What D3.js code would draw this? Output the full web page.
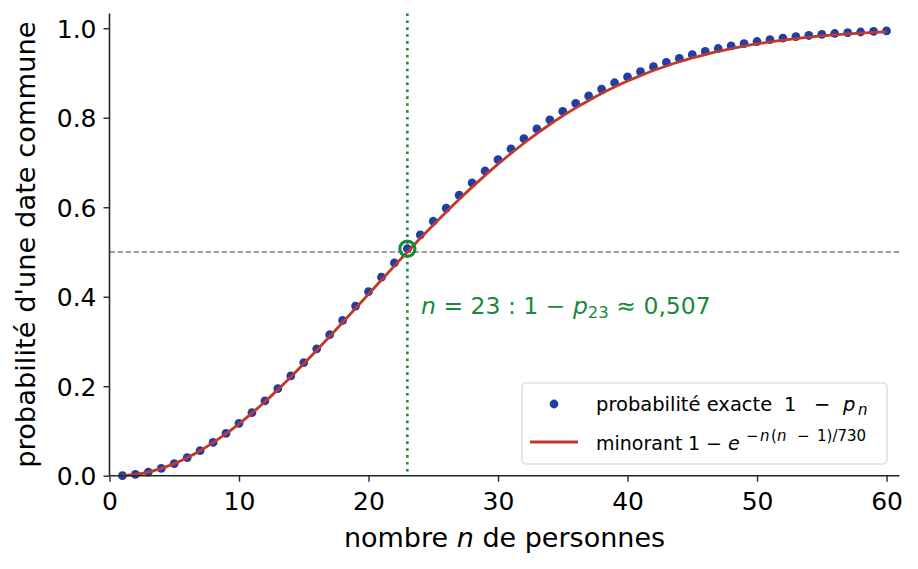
<!DOCTYPE html>
<html><head><meta charset="utf-8">
<script src="https://cdn.jsdelivr.net/npm/d3@7"></script>
<style>
body{margin:0;background:#fff;}
svg{display:block;font-family:"DejaVu Sans",sans-serif;}
</style></head>
<body><svg id="c" width="918" height="569"></svg>
<script>
// number of people n
const nValues = d3.range(1, 61);
// exact probability 1 - p_n
const exactProb = [0,0.00274,0.0082,0.01636,0.02714,0.04046,0.05624,0.07434,0.09462,0.11695,
0.14114,0.16702,0.19441,0.2231,0.2529,0.2836,0.31501,0.34691,0.37912,0.41144,
0.44369,0.4757,0.5073,0.53834,0.5687,0.59824,0.62686,0.65446,0.68097,0.70632,
0.73045,0.75335,0.77497,0.79532,0.81438,0.83218,0.84873,0.86407,0.87822,0.89123,
0.90315,0.91403,0.92392,0.93289,0.94098,0.94825,0.95477,0.9606,0.96578,0.97037,
0.97443,0.978,0.98114,0.98388,0.98626,0.98833,0.99012,0.99166,0.99299,0.99412];
// lower bound 1 - exp(-n(n-1)/730)
const lowerBound = [0,0.00273,0.00818,0.0163,0.02703,0.04027,0.05591,0.07384,0.09392,0.11599,
0.13988,0.16541,0.1924,0.22066,0.24999,0.2802,0.31106,0.3424,0.37404,0.4058,
0.43748,0.46893,0.5,0.53054,0.56042,0.58949,0.61775,0.64498,0.6712,0.6963,
0.72027,0.74304,0.76462,0.78497,0.8041,0.82201,0.83873,0.85428,0.86869,0.88199,
0.89424,0.90548,0.91576,0.92512,0.93362,0.94131,0.94826,0.95451,0.96011,0.96512,
0.96959,0.97356,0.97707,0.98017,0.9829,0.98529,0.98738,0.98921,0.9908,0.99217];
const xTicks = [0,10,20,30,40,50,60];
const yTicks = [0,0.2,0.4,0.6,0.8,1.0];
const threshold = 0.5;
const markN = 23, markP = 0.5073;

const svg = d3.select("#c");
const x = d3.scaleLinear().domain([0,61]).range([109.5,899.5]);
const y = d3.scaleLinear().domain([0,1.033]).range([475.7,13.5]);

const BLUE="#1f3fa6", RED="#c0392b", GREEN="#178a3c", AX="#262626";

// reference lines
svg.append("line").attr("x1",x(0)).attr("x2",x(61)).attr("y1",y(threshold)).attr("y2",y(threshold))
  .attr("stroke","#808080").attr("stroke-width",1.5).attr("stroke-dasharray","5.5,2.5");
svg.append("line").attr("x1",x(markN)).attr("x2",x(markN)).attr("y1",y(1.033)).attr("y2",y(0))
  .attr("stroke",GREEN).attr("stroke-width",2.6).attr("stroke-dasharray","2.6,4.3");

// points
svg.append("g").selectAll("circle").data(nValues).join("circle")
  .attr("cx",d=>x(d)).attr("cy",(d,i)=>y(exactProb[i])).attr("r",4.4).attr("fill",BLUE);
// line
svg.append("path").datum(nValues)
  .attr("d", d3.line().x(d=>x(d)).y((d,i)=>y(lowerBound[i])).curve(d3.curveMonotoneX))
  .attr("fill","none").attr("stroke",RED).attr("stroke-width",2.8);
// marker circle
svg.append("circle").attr("cx",x(markN)).attr("cy",y(markP)).attr("r",7.6)
  .attr("fill","none").attr("stroke",GREEN).attr("stroke-width",3.2);

// axes
const xa = svg.append("g").attr("transform",`translate(0,${y(0)})`)
  .call(d3.axisBottom(x).tickValues(xTicks).tickSize(6).tickPadding(5).tickFormat(d3.format("d")));
const ya = svg.append("g").attr("transform",`translate(${x(0)},0)`)
  .call(d3.axisLeft(y).tickValues(yTicks).tickSize(6).tickPadding(7).tickFormat(d3.format(".1f")));
[xa,ya].forEach(a=>{
  a.select(".domain").attr("stroke",AX).attr("stroke-width",1.6);
  a.selectAll(".tick line").attr("stroke",AX).attr("stroke-width",1.4);
  a.selectAll(".tick text").attr("fill","#000").style("font-size","25px").style("font-family","DejaVu Sans");
});
xa.select(".domain").attr("d",`M${x(0)},0H${x(61)}`);
ya.select(".domain").attr("d",`M0,${y(0)}V${y(1.033)}`);
xa.selectAll(".tick text").attr("dy","0.95em");
ya.selectAll(".tick text").attr("dy","0.36em");

// axis labels
const xl = svg.append("text").attr("x",(x(0)+x(61))/2).attr("y",547).attr("text-anchor","middle")
  .style("font-size","27px").attr("fill","#000");
xl.append("tspan").text("nombre ");
xl.append("tspan").attr("font-style","italic").text("n");
xl.append("tspan").text(" de personnes");
svg.append("text").attr("transform",`translate(35,${(y(0)+y(1.033))/2}) rotate(-90)`)
  .attr("text-anchor","middle").style("font-size","27.3px").attr("fill","#000")
  .text("probabilité d'une date commune");

// annotation
const an = svg.append("text").attr("x",421).attr("y",314).style("font-size","23.5px").attr("fill",GREEN);
an.append("tspan").attr("font-style","italic").text("n");
an.append("tspan").text(" = 23 : 1 − ");
an.append("tspan").attr("font-style","italic").text("p");
an.append("tspan").attr("font-size","16.5px").attr("dy",4).text("23");
an.append("tspan").attr("dy",-4).text(" ≈ 0,507");

// legend
const lg = svg.append("g");
lg.append("rect").attr("x",522).attr("y",383).attr("width",365).attr("height",81).attr("rx",4)
  .attr("fill","#fff").attr("fill-opacity",0.8).attr("stroke","#d4d4d4").attr("stroke-width",1.2);
lg.append("circle").attr("cx",554).attr("cy",404).attr("r",4.4).attr("fill",BLUE);
lg.append("line").attr("x1",530).attr("x2",578).attr("y1",442).attr("y2",442).attr("stroke",RED).attr("stroke-width",2.8);
const t1 = lg.append("text").attr("y",411).style("font-size","19.5px").attr("fill","#000");
t1.append("tspan").attr("x",596).text("probabilité exacte");
t1.append("tspan").attr("x",784).text("1");
t1.append("tspan").attr("x",814).text("−");
t1.append("tspan").attr("x",843).attr("font-style","italic").text("p");
t1.append("tspan").attr("x",858).attr("font-style","italic").attr("font-size","15px").attr("dy",4).text("n");
const t2 = lg.append("text").attr("y",450).style("font-size","19px").attr("fill","#000");
t2.append("tspan").attr("x",596).text("minorant");
t2.append("tspan").attr("x",688).text("1");
t2.append("tspan").attr("x",706).text("−");
t2.append("tspan").attr("x",728).attr("font-style","italic").text("e");
const sup = t2.append("tspan").attr("font-size","15px").attr("dy",-9);
sup.append("tspan").attr("x",746).text("−");
sup.append("tspan").attr("x",760).attr("font-style","italic").text("n");
sup.append("tspan").attr("x",771).text("(");
sup.append("tspan").attr("x",777).attr("font-style","italic").text("n");
sup.append("tspan").attr("x",797).text("−");
sup.append("tspan").attr("x",817).text("1)/730");
</script></body></html>
